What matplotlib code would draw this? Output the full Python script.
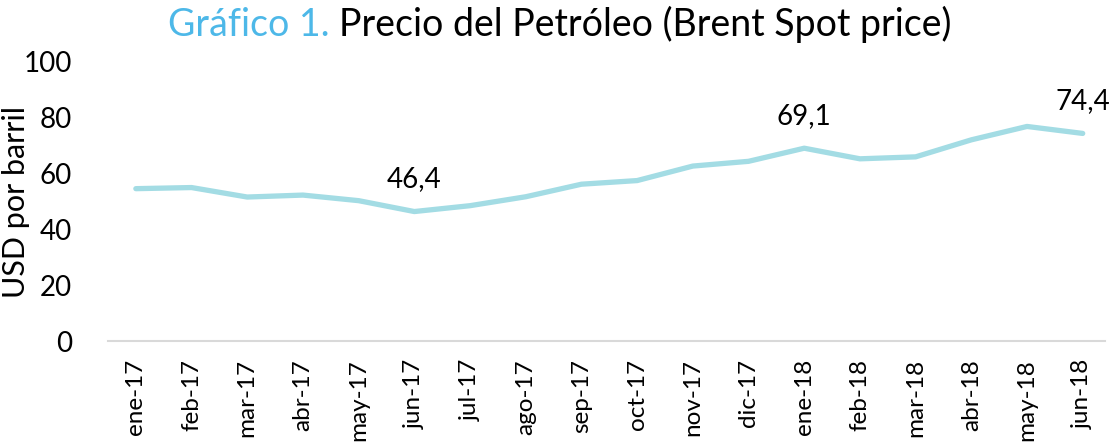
import matplotlib
matplotlib.use('Agg')
import matplotlib.pyplot as plt

# monthly Brent spot, USD per barrel
meses = ['ene-17', 'feb-17', 'mar-17', 'abr-17', 'may-17', 'jun-17',
         'jul-17', 'ago-17', 'sep-17', 'oct-17', 'nov-17', 'dic-17',
         'ene-18', 'feb-18', 'mar-18', 'abr-18', 'may-18', 'jun-18']
precio = [54.6, 55.0, 51.6, 52.3, 50.3, 46.4,
          48.5, 51.7, 56.2, 57.5, 62.7, 64.4,
          69.1, 65.3, 66.0, 72.1, 76.9, 74.4]
etiquetas = {5: '46,4', 12: '69,1', 17: '74,4'}

plt.rcParams['font.family'] = ['Lato', 'DejaVu Sans']

fig = plt.figure(figsize=(11.12, 4.46), dpi=100)
ax = fig.add_axes([108/1112, 1 - 341/446, (1105-108)/1112, (341-62)/446])

x = list(range(len(meses)))
ax.plot(x, precio, color='#A3DCE4', linewidth=3.8, solid_capstyle='round')

for i, txt in etiquetas.items():
    ax.annotate(txt, (x[i], precio[i]), xytext=(0, 14), textcoords='offset points',
                ha='center', va='bottom', fontsize=20)

ax.set_xlim(-0.5, 17.4)
ax.set_ylim(0, 100)
ax.set_yticks(range(0, 101, 20))
ax.set_xticks(x)
ax.set_xticklabels(meses, rotation=90, fontsize=17.5)
ax.tick_params(axis='y', labelsize=20, length=0, pad=26)
ax.tick_params(axis='x', length=0, pad=13)
for s in ['top', 'right', 'left']:
    ax.spines[s].set_visible(False)
ax.spines['bottom'].set_color('#D9D9D9')
ax.spines['bottom'].set_linewidth(1.5)

ax.set_ylabel('USD por barril', fontsize=22)
ax.yaxis.set_label_coords(-0.078, 0.5)

# two-colour title, centred as a whole
t1 = fig.text(0, 0.945, 'Gráfico 1. ', color='#4DB8E8', fontsize=27, va='center')
t2 = fig.text(0, 0.945, 'Precio del Petróleo (Brent Spot price)', color='black',
              fontsize=27, va='center')
r = fig.canvas.get_renderer()
w1 = t1.get_window_extent(r).width / fig.bbox.width
w2 = t2.get_window_extent(r).width / fig.bbox.width
x0 = 560 / 1112 - (w1 + w2) / 2
t1.set_x(x0)
t2.set_x(x0 + w1)

fig.savefig('out.png', dpi=100)
